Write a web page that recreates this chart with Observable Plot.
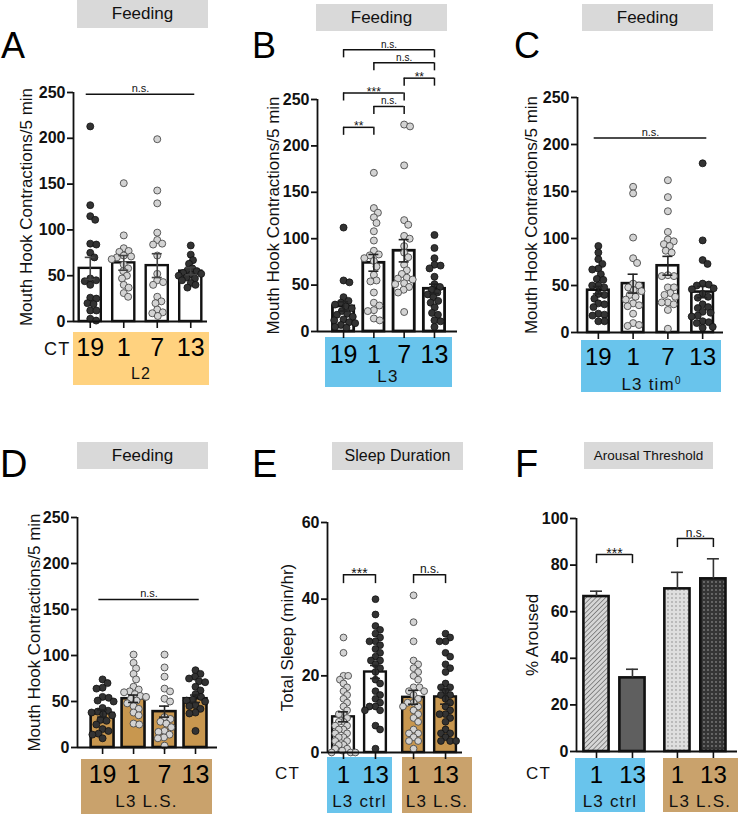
<!DOCTYPE html>
<html>
<head>
<meta charset="utf-8">
<script src="https://cdn.jsdelivr.net/npm/d3@7"></script>
<script src="https://cdn.jsdelivr.net/npm/@observablehq/plot@0.6"></script>
<style>
  body { margin: 0; background: #fff; font-family: "Liberation Sans", Arial, Helvetica, sans-serif; }
  #fig { position: relative; width: 738px; height: 816px; overflow: hidden; background: #fff; }
  .title { position: absolute; background: #d9d9d9; display: flex; align-items: center; justify-content: center; color: #111; z-index: 3; }
  .letter { position: absolute; line-height: 1; color: #000; z-index: 3; }
  .box { position: absolute; z-index: 0; }
  .lbl { position: absolute; line-height: 1; white-space: nowrap; color: #111; z-index: 3; letter-spacing: 1.2px; }
  .ctr { transform: translateX(-50%); }
  .pw { position: absolute; z-index: 2; }
  .pw svg { overflow: visible; }
  sup { font-size: 10px; vertical-align: 6px; letter-spacing: 0; }
</style>
</head>
<body>
<div id="fig"></div>
<script>
// ---------------- DATA ----------------
const CT_FEED = ["19", "1", "7", "13"];
const CT_SLEEP = ["1", "13", "1", "13"];

// A – Feeding, L2
const A_ct19 = [213, 127, 115, 111, 85, 84, 75, 70, 47, 45, 44, 40, 26, 25, 20, 19, 12, 12, 3, 1];
const A_ct1  = [151, 94, 80, 77, 76, 72, 71, 70, 68, 62, 58, 55, 50, 47, 40, 37, 31, 27];
const A_ct7  = [199, 143, 129, 97, 89, 85, 84, 72, 52, 45, 43, 40, 27, 22, 20, 13, 10, 9, 6];
const A_ct13 = [83, 73, 67, 63, 58, 56, 55, 53, 52, 51, 50, 48, 47, 45, 42, 40, 37];
const A_mean = [58, 64, 61, 55];
const A_sem  = [12, 8, 13, 4];
const A_sig  = [{a: 0, b: 3, y: 248, label: "n.s."}];

// B – Feeding, L3
const B_ct19 = [112, 55, 53, 37, 33, 31, 29, 27, 25, 22, 19, 18, 16, 13, 12, 10, 9, 7, 5, 4];
const B_ct1  = [171, 133, 128, 123, 117, 108, 98, 87, 83, 82, 79, 76, 70, 61, 55, 54, 42, 31, 28, 23, 22, 14, 12];
const B_ct7  = [223, 221, 179, 120, 115, 103, 100, 92, 85, 80, 72, 66, 62, 58, 57, 56, 52, 51, 48, 45, 42, 21];
const B_ct13 = [104, 90, 79, 72, 71, 68, 59, 51, 48, 45, 42, 40, 37, 33, 31, 26, 20, 18, 12, 11, 5];
const B_mean = [27, 74, 87, 46];
const B_sem  = [5, 9, 12, 5];
const B_sig  = [
  {a: 0, b: 1, y: 220, label: "**"},
  {a: 1, b: 2, y: 242.5, label: "n.s."},
  {a: 0, b: 2, y: 257, label: "***"},
  {a: 2, b: 3, y: 273, label: "**"},
  {a: 1, b: 3, y: 289.5, label: "n.s."},
  {a: 0, b: 3, y: 303.5, label: "n.s."}
];

// C – Feeding, L3 tim0
const C_ct19 = [92, 85, 78, 73, 68, 67, 62, 57, 56, 50, 50, 48, 41, 40, 36, 31, 30, 27, 20, 19, 18, 12, 12];
const C_ct1  = [155, 148, 101, 79, 74, 52, 50, 48, 45, 44, 40, 38, 35, 31, 29, 28, 20, 10, 8, 7];
const C_ct7  = [162, 144, 129, 107, 99, 97, 94, 92, 87, 85, 61, 60, 60, 48, 48, 42, 40, 38, 32, 32, 30, 24, 4];
const C_ct13 = [180, 98, 77, 73, 52, 51, 50, 47, 46, 41, 38, 37, 30, 27, 26, 22, 21, 18, 17, 12, 11, 10, 6, 5];
const C_mean = [45, 52, 71, 43];
const C_sem  = [4, 10, 10, 6];
const C_sig  = [{a: 0, b: 3, y: 207, label: "n.s."}];

// D – Feeding, L3 L.S.
const D_ct19 = [74, 70, 65, 64, 55, 54, 51, 50, 43, 40, 39, 38, 36, 35, 30, 29, 25, 20, 18, 15, 14, 10];
const D_ct1  = [101, 92, 86, 80, 74, 66, 63, 61, 60, 58, 56, 55, 53, 51, 48, 45, 42, 38, 35, 26, 25];
const D_ct7  = [101, 87, 77, 64, 61, 53, 50, 33, 31, 28, 26, 22, 18, 17, 14, 11, 10, 2];
const D_ct13 = [84, 80, 77, 75, 72, 71, 66, 62, 58, 55, 52, 51, 50, 46, 45, 42, 38, 37, 18];
const D_mean = [37, 53, 39, 53];
const D_sem  = [4, 4, 6, 4];
const D_sig  = [{a: 0, b: 3, y: 161, label: "n.s."}];

// E – Sleep duration
const E_ctrl1  = [30, 26, 20, 20, 19, 18, 17, 16, 15, 14, 13, 12, 11, 10, 10, 9, 8, 8, 7, 7, 6, 6, 5, 5, 4, 4, 3, 3, 2, 2, 1, 1, 0.5, 0, 0, 0];
const E_ctrl13 = [40, 36, 33, 32, 31, 30, 29, 29, 28, 27, 26, 25, 24, 24, 23, 22, 21, 19, 18, 16, 15, 14, 13, 12, 12, 11, 11, 7, 6, 1];
const E_ls1    = [41, 34, 29, 24, 23, 22, 21, 20, 19, 17, 17, 16, 16, 15, 14, 13, 13, 12, 12, 11, 10, 9, 8, 6, 5, 5, 4, 3, 3, 1];
const E_ls13   = [31, 30, 29, 29, 26, 25, 23, 22, 21, 18, 17, 17, 16, 15, 15, 14, 13, 12, 11, 10, 10, 9, 8, 6, 5, 5, 4, 3, 3, 3];
const E_mean = [9.3, 21, 14.4, 14.5];
const E_sem  = [1.3, 1.7, 1.8, 1.9];
const E_sig  = [{a: 0, b: 1, y: 46.4, label: "***"}, {a: 2, b: 3, y: 46.4, label: "n.s."}];

// F – Arousal threshold
const F_mean = [66.5, 31.6, 69.8, 74.1];
const F_sem  = [2.3, 3.7, 7.1, 8.6];
const F_sig  = [{a: 0, b: 1, y: 84.5, label: "***"}, {a: 2, b: 3, y: 91.4, label: "n.s."}];

// ---------------- STYLE ----------------
const FONT = '"Liberation Sans", Arial, Helvetica, sans-serif';
const BLUE = "#69c4ec", ORANGE = "#ffd27f", BROWN_BOX = "#c9a26c", BROWN_BAR = "#c8974f";
const INK = "#111";

// deterministic beeswarm layout (pixel offsets)
function swarm(vals, r, pxY, maxOff) {
  const d = 2 * r * 0.88;
  const pts = vals.map(v => ({v, y: v * pxY})).sort((a, b) => b.v - a.v);
  const placed = [];
  for (const p of pts) {
    const cands = [0];
    for (const q of placed) {
      const dy = Math.abs(q.y - p.y);
      if (dy < d) { const dx = Math.sqrt(d * d - dy * dy); cands.push(q.x + dx, q.x - dx); }
    }
    cands.sort((a, b) => Math.abs(a) - Math.abs(b));
    let best = 0;
    for (const c of cands) {
      if (placed.every(q => (q.x - c) ** 2 + (q.y - p.y) ** 2 >= d * d - 1e-6)) { best = c; break; }
    }
    p.x = best; placed.push(p);
  }
  const m = d3.max(pts, p => Math.abs(p.x)) || 0;
  if (m > maxOff) pts.forEach(p => p.x *= maxOff / m);
  return pts;
}

function panel(p) {
  const W = p.width, H = p.height;
  const pxX = (W - p.ml - p.mr) / (p.xdom[1] - p.xdom[0]);
  const pxY = (H - p.mt - p.mb) / p.ymax;
  const bars = p.mean.map((m, i) => ({x: p.xpos[i], m, s: p.sem[i]}));
  const hw = p.barHalf;
  const cap = p.capPx / pxX;
  const marks = [];
  bars.forEach((b, i) => marks.push(Plot.rect([b], {
    x1: d => d.x - hw, x2: d => d.x + hw, y1: 0, y2: "m",
    fill: p.barFill[i], stroke: INK, strokeWidth: p.barStroke
  })));
  if (p.points) {
    const light = [], dark = [];
    p.points.forEach((vals, i) => {
      swarm(vals, p.r, pxY, hw * pxX + 1).forEach(s =>
        (p.dark[i] ? dark : light).push({x: p.xpos[i] + s.x / pxX, y: s.v}));
    });
    marks.push(Plot.dot(light, {x: "x", y: "y", r: p.r, fill: "#d3d3d3", stroke: "#4a4a4a", strokeWidth: 0.9}));
    marks.push(Plot.dot(dark, {x: "x", y: "y", r: p.r, fill: "#333", stroke: "#111", strokeWidth: 0.8}));
  }
  const lo = d => p.errDown ? d.m - d.s : d.m;
  marks.push(Plot.ruleX(bars, {x: "x", y1: lo, y2: d => d.m + d.s, stroke: p.errColor, strokeWidth: 1.6}));
  marks.push(Plot.ruleY(bars, {y: d => d.m + d.s, x1: d => d.x - cap, x2: d => d.x + cap, stroke: p.errColor, strokeWidth: 1.6}));
  if (p.errDown) marks.push(Plot.ruleY(bars, {y: lo, x1: d => d.x - cap, x2: d => d.x + cap, stroke: p.errColor, strokeWidth: 1.6}));

  // axes
  marks.push(Plot.ruleY([0], {stroke: INK, strokeWidth: 1.8}));
  marks.push(Plot.ruleX([p.xdom[0]], {y1: 0, y2: p.ymax, stroke: INK, strokeWidth: 1.8}));
  marks.push(Plot.axisY({ticks: p.yticks, tickSize: 6, tickPadding: 2, fontSize: 16, fontWeight: "bold",
    label: null, stroke: INK, strokeWidth: 1.8, fill: INK}));
  marks.push(Plot.axisX({ticks: p.xpos, tickFormat: d => p.xlabels[p.xpos.indexOf(d)], tickSize: 7,
    tickPadding: p.tickPad, fontSize: p.xFont, label: null, stroke: INK, strokeWidth: 1.6, fill: "#000"}));
  marks.push(Plot.text([p.ylabel], {frameAnchor: "left", dx: -p.ylabOff, rotate: -90, text: d => d,
    fontSize: 17, textAnchor: "middle", lineAnchor: "middle", fill: INK}));

  // significance
  const ext = p.sigTicks ? 0 : 0.12;
  marks.push(Plot.ruleY(p.sig, {y: "y", x1: d => p.xpos[d.a] - ext, x2: d => p.xpos[d.b] + ext, stroke: INK, strokeWidth: 1.5}));
  if (p.sigTicks) {
    const tl = p.sigTick / pxY;
    const ends = p.sig.flatMap(d => [{x: p.xpos[d.a], y: d.y}, {x: p.xpos[d.b], y: d.y}]);
    marks.push(Plot.ruleX(ends, {x: "x", y1: "y", y2: d => d.y - tl, stroke: INK, strokeWidth: 1.5}));
  }
  const mid = d => (p.xpos[d.a] + p.xpos[d.b]) / 2;
  marks.push(Plot.text(p.sig.filter(d => d.label === "n.s."), {x: mid, y: "y", text: "label", lineAnchor: "bottom", dy: -2, fontSize: p.sigFont, fill: INK}));
  marks.push(Plot.text(p.sig.filter(d => d.label !== "n.s."), {x: mid, y: "y", text: "label", lineAnchor: "bottom", dy: 3, fontSize: p.sigFont + 2, fill: INK}));

  const svg = Plot.plot({
    width: W, height: H,
    marginLeft: p.ml, marginRight: p.mr, marginTop: p.mt, marginBottom: p.mb,
    x: {type: "linear", domain: p.xdom},
    y: {domain: [0, p.ymax]},
    style: {background: "transparent", fontFamily: FONT, overflow: "visible"},
    marks
  });
  // make y tick labels bold (GraphPad style)
  svg.querySelectorAll("g[aria-label]").forEach(g => {
    const a = g.getAttribute("aria-label") || "";
    if (a.indexOf("y-axis tick label") >= 0) {
      g.setAttribute("font-weight", "bold");
      g.querySelectorAll("text").forEach(t => t.style.fontWeight = "bold");
    }
  });
  if (p.defs) svg.insertAdjacentHTML("afterbegin", p.defs);
  const wrap = document.createElement("div");
  wrap.className = "pw";
  wrap.style.left = p.left + "px"; wrap.style.top = p.top + "px";
  wrap.appendChild(svg);
  fig.appendChild(wrap);
}

const fig = document.getElementById("fig");
function div(cls, html, css) {
  const e = document.createElement("div");
  e.className = cls; e.innerHTML = html;
  Object.assign(e.style, css);
  fig.appendChild(e);
  return e;
}
const px = v => v + "px";
function title(t, x, y, w, h, fs) { div("title", t, {left: px(x), top: px(y), width: px(w), height: px(h), fontSize: px(fs)}); }
function letter(t, x, y, fs) { div("letter", t, {left: px(x), top: px(y), fontSize: px(fs)}); }
function box(color, x, y, w, h) { div("box", "", {left: px(x), top: px(y), width: px(w), height: px(h), background: color}); }
function lbl(t, x, y, fs, center) { div("lbl" + (center ? " ctr" : ""), t, {left: px(x), top: px(y), fontSize: px(fs)}); }

// ---------------- DECORATIONS ----------------
title("Feeding", 77, 0, 131, 28, 17);
title("Feeding", 316, 4, 131, 27, 17);
title("Feeding", 582, 4, 131, 27, 17);
title("Feeding", 77, 442, 131, 27, 17);
title("Sleep Duration", 332, 442, 131, 28, 16);
title("Arousal Threshold", 584, 442, 129, 27, 13.5);

letter("A", 1, 28, 36); letter("B", 252, 28, 36); letter("C", 514, 28, 36);
letter("D", 0, 445, 38); letter("E", 252, 445, 38); letter("F", 515, 445, 38);

box(ORANGE, 73, 332, 136, 53);
box(BLUE, 325, 337, 127, 50);
box(BLUE, 581, 340, 140, 52);
box(BROWN_BOX, 81, 759, 131, 55);
box(BLUE, 327, 757, 65, 56); box(BROWN_BOX, 402, 757, 70, 56);
box(BLUE, 575, 758, 70, 54); box(BROWN_BOX, 663, 758, 75, 54);

lbl("CT", 44, 340, 18, false);
lbl("L2", 141, 366, 16, true);
lbl("L3", 388, 368, 17, true);
lbl("L3 tim<sup>0</sup>", 651, 376, 17, true);
lbl("L3 L.S.", 146.5, 793, 17, true);
lbl("CT", 275, 765, 17, false);
lbl("L3 ctrl", 359.5, 793, 17, true);
lbl("L3 L.S.", 437, 793, 17, true);
lbl("CT", 526, 765, 17, false);
lbl("L3 ctrl", 610, 793, 17, true);
lbl("L3 L.S.", 700, 793, 17, true);

// ---------------- PANELS ----------------
const feedTicks = [0, 50, 100, 150, 200, 250];
const MHC = "Mouth Hook Contractions/5 min";
const W4 = ["white", "white", "white", "white"];

panel({left: 0, top: 0, width: 240, height: 400, ml: 73, mr: 33, mt: 92, mb: 79,
  xdom: [-0.5, 3.5], xpos: [0, 1, 2, 3], xlabels: CT_FEED, ymax: 250, yticks: feedTicks,
  points: [A_ct19, A_ct1, A_ct7, A_ct13], dark: [true, false, false, true],
  mean: A_mean, sem: A_sem, barFill: W4, barHalf: 0.33, barStroke: 2.4, r: 3.5, capPx: 5,
  errDown: true, errColor: "#444", ylabel: MHC, ylabOff: 47, tickPad: 10, xFont: 25,
  sig: A_sig, sigTicks: false, sigFont: 11});

panel({left: 240, top: 0, width: 250, height: 400, ml: 77, mr: 33, mt: 99, mb: 69,
  xdom: [-0.86, 3.76], xpos: [0, 1, 2, 3], xlabels: CT_FEED, ymax: 250, yticks: feedTicks,
  points: [B_ct19, B_ct1, B_ct7, B_ct13], dark: [true, false, false, true],
  mean: B_mean, sem: B_sem, barFill: W4, barHalf: 0.35, barStroke: 2.8, r: 3.5, capPx: 5,
  errDown: true, errColor: "#222", ylabel: MHC, ylabOff: 44, tickPad: 7, xFont: 25,
  sig: B_sig, sigTicks: true, sigTick: 8, sigFont: 10});

panel({left: 490, top: 0, width: 248, height: 400, ml: 87, mr: 15, mt: 97, mb: 68,
  xdom: [-0.6, 3.6], xpos: [0, 1, 2, 3], xlabels: CT_FEED, ymax: 250, yticks: feedTicks,
  points: [C_ct19, C_ct1, C_ct7, C_ct13], dark: [true, false, false, true],
  mean: C_mean, sem: C_sem, barFill: W4, barHalf: 0.31, barStroke: 2.6, r: 3.5, capPx: 5,
  errDown: true, errColor: "#222", ylabel: MHC, ylabOff: 46, tickPad: 8, xFont: 24,
  sig: C_sig, sigTicks: false, sigFont: 11});

panel({left: 0, top: 400, width: 240, height: 416, ml: 77, mr: 23, mt: 117, mb: 69,
  xdom: [-0.81, 3.71], xpos: [0, 1, 2, 3], xlabels: CT_FEED, ymax: 250, yticks: feedTicks,
  points: [D_ct19, D_ct1, D_ct7, D_ct13], dark: [true, false, false, true],
  mean: D_mean, sem: D_sem, barFill: [BROWN_BAR, BROWN_BAR, BROWN_BAR, BROWN_BAR], barHalf: 0.37, barStroke: 2.6, r: 3.5, capPx: 5,
  errDown: true, errColor: "#222", ylabel: MHC, ylabOff: 43, tickPad: 11, xFont: 25,
  sig: D_sig, sigTicks: false, sigFont: 11});

const GAP_E = 0.19;
const E_pos = [0, 1, 2 + GAP_E, 3 + GAP_E];
panel({left: 240, top: 400, width: 250, height: 416, ml: 87, mr: 28, mt: 122, mb: 64,
  xdom: [-0.5, 3.72], xpos: E_pos, xlabels: CT_SLEEP, ymax: 60, yticks: [0, 20, 40, 60],
  points: [E_ctrl1, E_ctrl13, E_ls1, E_ls13], dark: [false, true, false, true],
  mean: E_mean, sem: E_sem, barFill: ["white", "white", BROWN_BAR, BROWN_BAR], barHalf: 0.34, barStroke: 2.4, r: 3.4, capPx: 5,
  errDown: true, errColor: "#222", ylabel: "Total Sleep (min/hr)", ylabOff: 40, tickPad: 6, xFont: 24,
  sig: E_sig, sigTicks: true, sigTick: 9, sigFont: 12});

const GAP_F = 0.25;
const F_pos = [0, 1, 2 + GAP_F, 3 + GAP_F];
const F_defs = `<defs>
<pattern id="hatchF" width="3.4" height="3.4" patternUnits="userSpaceOnUse" patternTransform="rotate(45)">
<rect width="3.4" height="3.4" fill="#d6d6d6"/><line x1="0" y1="0" x2="0" y2="3.4" stroke="#6e6e6e" stroke-width="1.5"/></pattern>
<pattern id="dotsLightF" width="4" height="4" patternUnits="userSpaceOnUse">
<rect width="4" height="4" fill="#dedede"/><circle cx="2" cy="2" r="0.65" fill="#777"/></pattern>
<pattern id="dotsDarkF" width="4" height="4" patternUnits="userSpaceOnUse">
<rect width="4" height="4" fill="#353535"/><circle cx="2" cy="2" r="0.65" fill="#bdbdbd"/></pattern>
</defs>`;
panel({left: 490, top: 400, width: 248, height: 416, ml: 86, mr: 1, mt: 118, mb: 65,
  xdom: [-0.556, 3.92], xpos: F_pos, xlabels: CT_SLEEP, ymax: 100, yticks: [0, 20, 40, 60, 80, 100],
  points: null, mean: F_mean, sem: F_sem,
  barFill: ["url(#hatchF)", "#5f5f5f", "url(#dotsLightF)", "url(#dotsDarkF)"], barHalf: 0.35, barStroke: 2.6, capPx: 6,
  errDown: false, errColor: "#333", ylabel: "% Aroused", ylabOff: 44, tickPad: 7, xFont: 24,
  sig: F_sig, sigTicks: true, sigTick: 9, sigFont: 12, defs: F_defs});
</script>
</body>
</html>
